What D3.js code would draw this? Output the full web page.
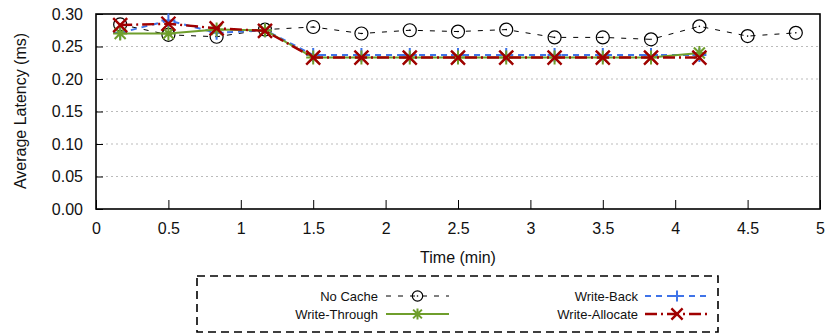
<!DOCTYPE html>
<html><head><meta charset="utf-8">
<script src="https://cdn.jsdelivr.net/npm/d3@7"></script>
<style>body{margin:0;background:#fff}svg{display:block}text{font-family:"Liberation Sans",Arial,sans-serif;font-weight:400}</style>
</head><body><svg id="c" width="827" height="335"></svg>
<script>
const times = [0.167,0.5,0.833,1.167,1.5,1.833,2.167,2.5,2.833,3.167,3.5,3.833,4.167,4.5,4.833];
const noCache = [0.284,0.268,0.265,0.276,0.280,0.270,0.275,0.273,0.276,0.264,0.264,0.261,0.281,0.266,0.271];
const writeBack = [0.271,0.290,0.271,0.275,0.237,0.237,0.237,0.237,0.237,0.237,0.237,0.237,0.237];
const writeThrough = [0.270,0.270,0.276,0.275,0.233,0.233,0.233,0.233,0.233,0.233,0.233,0.233,0.240];
const writeAllocate = [0.283,0.285,0.278,0.274,0.233,0.233,0.233,0.233,0.233,0.233,0.233,0.233,0.233];
const xTicks = [0,0.5,1,1.5,2,2.5,3,3.5,4,4.5,5];
const yTicks = [0,0.05,0.10,0.15,0.20,0.25,0.30];

const svg = d3.select("#c");
const L=96,R=820,T=14,B=209;
const x = d3.scaleLinear().domain([0,5]).range([L,R]);
const y = d3.scaleLinear().domain([0,0.30]).range([B,T]);

svg.append("g").selectAll("line").data(yTicks.slice(1,-1)).join("line")
  .attr("x1",L).attr("x2",R).attr("y1",d=>y(d)).attr("y2",d=>y(d))
  .attr("stroke","#bbb").attr("stroke-width",1).attr("stroke-dasharray","2,3");

const ya = svg.append("g").attr("transform",`translate(${L},0)`)
  .call(d3.axisLeft(y).tickValues(yTicks).tickFormat(d3.format(".2f")).tickSizeInner(-7).tickSizeOuter(0).tickPadding(13));
const xa = svg.append("g").attr("transform",`translate(0,${B})`)
  .call(d3.axisBottom(x).tickValues(xTicks).tickFormat(d=>d3.format("")(d)).tickSizeInner(-9).tickSizeOuter(0).tickPadding(14));
[ya,xa].forEach(g=>{g.select(".domain").remove();g.selectAll("line").attr("stroke","#000").attr("stroke-width",1);
  g.selectAll("text").attr("font-size",16).attr("fill","#111").attr("font-weight",400).attr("font-family",'"Liberation Sans",Arial,sans-serif');});

svg.append("rect").attr("x",L).attr("y",T).attr("width",R-L).attr("height",B-T)
  .attr("fill","none").attr("stroke","#000").attr("stroke-width",1.6);

svg.append("text").attr("x",458).attr("y",263).attr("text-anchor","middle").attr("font-size",16).attr("fill","#111").text("Time (min)");
svg.append("text").attr("transform","translate(26,111) rotate(-90)").attr("text-anchor","middle").attr("font-size",16).attr("fill","#111").text("Average Latency (ms)");

function marker(g,type,cx,cy,color,k){
  k=k||1;
  const s=7*k;
  if(type==="circle"){
    g.append("circle").attr("cx",cx).attr("cy",cy).attr("r",6.5*k).attr("fill","none").attr("stroke",color).attr("stroke-width",1.2);
    g.append("circle").attr("cx",cx).attr("cy",cy).attr("r",0.8).attr("fill",color);
  } else if(type==="plus"){
    g.append("path").attr("d",`M${cx-s},${cy}H${cx+s}M${cx},${cy-s}V${cy+s}`).attr("stroke",color).attr("stroke-width",2);
  } else if(type==="star"){
    const a=5.5*k;
    g.append("path").attr("d",`M${cx-s},${cy}H${cx+s}M${cx},${cy-s}V${cy+s}M${cx-a},${cy-a}L${cx+a},${cy+a}M${cx-a},${cy+a}L${cx+a},${cy-a}`).attr("stroke",color).attr("stroke-width",2);
  } else if(type==="x"){
    g.append("path").attr("d",`M${cx-s},${cy-s}L${cx+s},${cy+s}M${cx-s},${cy+s}L${cx+s},${cy-s}`).attr("stroke",color).attr("stroke-width",2.4);
  }
}

const series = [
  {name:"No Cache",vals:noCache,color:"#000",dash:"5,7",w:1,type:"circle"},
  {name:"Write-Back",vals:writeBack,color:"#3f73e8",dash:"6,5",w:2,type:"plus"},
  {name:"Write-Through",vals:writeThrough,color:"#6f9e2c",dash:null,w:2,type:"star"},
  {name:"Write-Allocate",vals:writeAllocate,color:"#a00000",dash:"12,4,2,4",w:2.4,type:"x"}
];
const line = d3.line().x(d=>x(d[0])).y(d=>y(d[1]));
series.forEach(s=>{
  const pts = s.vals.map((v,i)=>[times[i],v]);
  const g = svg.append("g");
  g.append("path").attr("d",line(pts)).attr("fill","none").attr("stroke",s.color).attr("stroke-width",s.w)
    .attr("stroke-dasharray",s.dash);
  pts.forEach(p=>marker(g,s.type,x(p[0]),y(p[1]),s.color));
});

svg.append("rect").attr("x",197).attr("y",276).attr("width",521).attr("height",56)
  .attr("fill","none").attr("stroke","#000").attr("stroke-width",1.6).attr("stroke-dasharray","8,5");
const leg = [
  {s:series[0],tx:378,ty:296,lx1:386,lx2:449},
  {s:series[2],tx:378,ty:314,lx1:386,lx2:449},
  {s:series[1],tx:638,ty:296,lx1:645,lx2:709},
  {s:series[3],tx:638,ty:314,lx1:645,lx2:709}
];
leg.forEach(l=>{
  svg.append("text").attr("x",l.tx).attr("y",l.ty+4.5).attr("text-anchor","end").attr("font-size",13).attr("fill","#111").text(l.s.name);
  const g=svg.append("g");
  g.append("line").attr("x1",l.lx1).attr("x2",l.lx2).attr("y1",l.ty).attr("y2",l.ty)
    .attr("stroke",l.s.color).attr("stroke-width",l.s.w).attr("stroke-dasharray",l.s.dash);
  marker(g,l.s.type,(l.lx1+l.lx2)/2,l.ty,l.s.color,0.8);
});
</script></body></html>
